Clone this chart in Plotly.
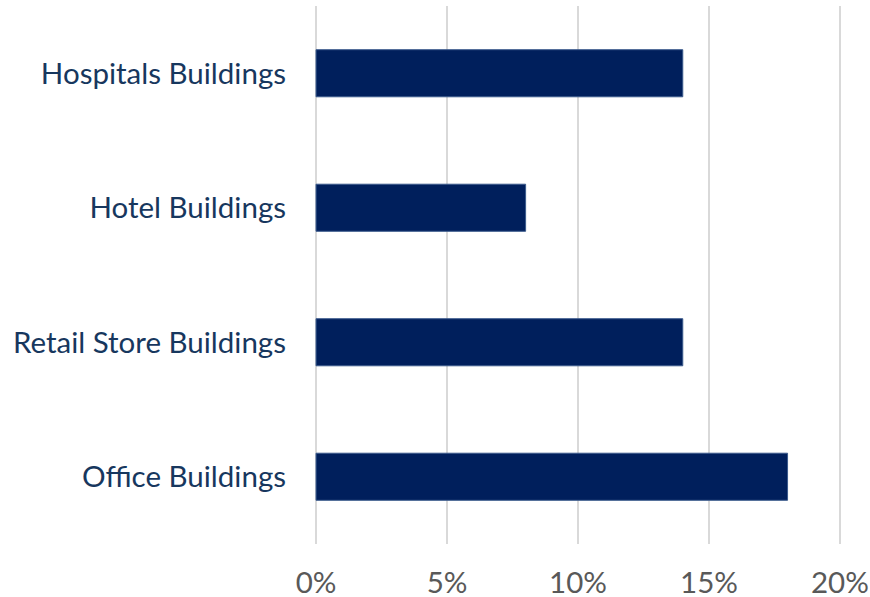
import plotly.graph_objects as go

categories = ["Office Buildings", "Retail Store Buildings", "Hotel Buildings", "Hospitals Buildings"]
values = [0.18, 0.14, 0.08, 0.14]
tick_vals = [0, 0.05, 0.10, 0.15, 0.20]
tick_text = ["0%", "5%", "10%", "15%", "20%"]

fig = go.Figure(go.Bar(
    y=categories, x=values, orientation="h",
    marker=dict(color="#001F5C", line=dict(color="#3A5A8C", width=1)),
    width=0.35,
))

fig.update_layout(
    width=870, height=597,
    margin=dict(l=315, r=29, t=6, b=53),
    paper_bgcolor="white", plot_bgcolor="white",
    font=dict(family="Lato, Open Sans, sans-serif", size=29.5),
    showlegend=False,
)
fig.update_xaxes(
    range=[-0.0004, 0.2004], tickvals=tick_vals, ticktext=tick_text,
    showgrid=True, gridcolor="#D9D9D9", gridwidth=2,
    zeroline=False, showline=False, automargin=False,
    tickfont=dict(color="#595959", size=29.5),
    ticklabelstandoff=18,
)
fig.update_yaxes(
    categoryorder="array", categoryarray=categories,
    showgrid=False, zeroline=False, showline=False, automargin=False,
    tickfont=dict(color="#17375E", size=29.5),
    ticklabelstandoff=28,
)

fig.write_html("out.html")
